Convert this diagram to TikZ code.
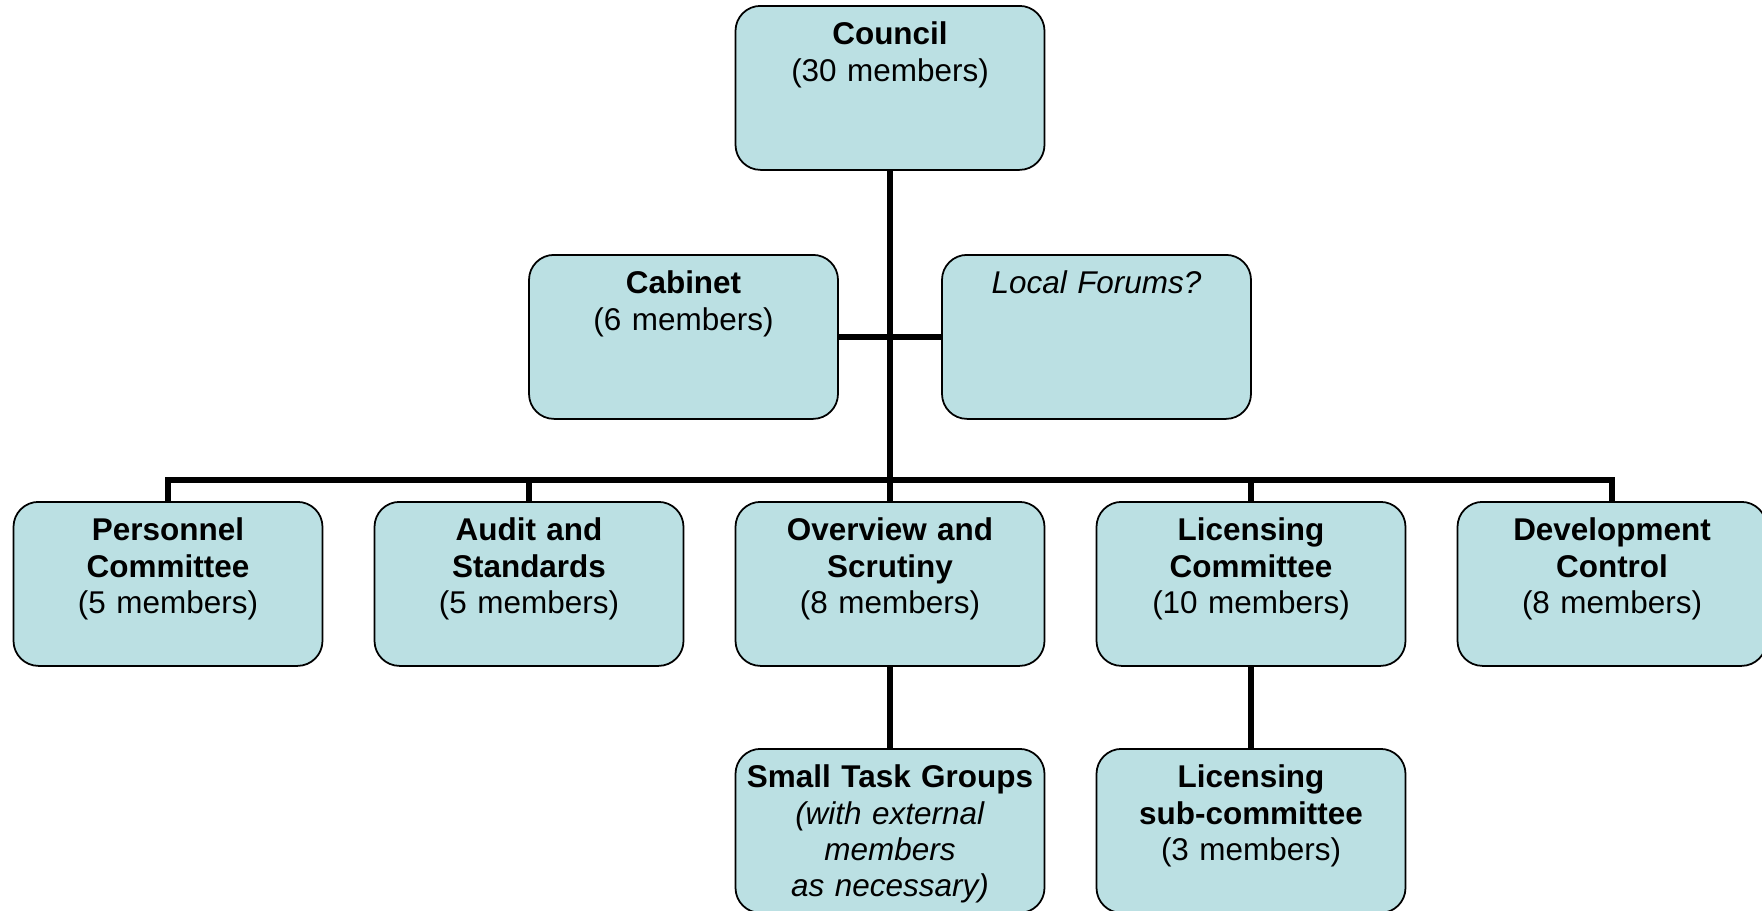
\documentclass[tikz,border=0pt]{standalone}
\usepackage{fontspec}
\setmainfont{Liberation Sans}
\definecolor{boxblue}{HTML}{BBE0E3}

\begin{document}
\begin{tikzpicture}
      \tikzset{
        node distance=7.22cm,
        unit/.style={rectangle,rounded corners=0.5cm,draw,line width=1pt,fill=boxblue,
          minimum width=6.18cm,text width=5.9cm,align=center,
          inner xsep=0pt,inner ysep=0.33cm,text height=0.45cm,text depth=2.17cm,
          font=\fontsize{17.9}{20.6}\selectfont},
        link/.style={line width=3.2pt}
      }

      \useasboundingbox (0,0) rectangle (35.24,-18.2);
      \clip (0,0) rectangle (35.24,-18.2);

      \node[unit,anchor=north] (council) at (17.8,-0.1) {\textbf{Council}\\(30 members)};
      \node[unit,anchor=north] (cabinet) at (13.67,-5.08) {\textbf{Cabinet}\\(6 members)};
      \node[unit,anchor=north] (forums) at (21.93,-5.08) {\textit{Local Forums?}};

      \node[unit,anchor=north] (overview) at (17.8,-10.02) {\textbf{Overview and}\\\textbf{Scrutiny}\\(8 members)};
      \node[unit,left of=overview] (audit) {\textbf{Audit and}\\\textbf{Standards}\\(5 members)};
      \node[unit,left of=audit] (personnel) {\textbf{Personnel}\\\textbf{Committee}\\(5 members)};
      \node[unit,right of=overview] (licensing) {\textbf{Licensing}\\\textbf{Committee}\\(10 members)};
      \node[unit,right of=licensing] (development) {\textbf{Development}\\\textbf{Control}\\(8 members)};

      \node[unit,node distance=4.94cm,below of=overview] (taskgroups) {\textbf{Small Task Groups}\\\textit{(with external}\\\textit{members}\\\textit{as necessary)}};
      \node[unit,node distance=4.94cm,below of=licensing] (subcommittee) {\textbf{Licensing}\\\textbf{sub-committee}\\(3 members)};

      \coordinate (bus) at (17.8,-9.6);

      \draw[link] (council) -- (overview);
      \draw[link] (cabinet) -- (forums);
      \draw[link] (personnel.north) |- (bus) -| (development.north);
      \draw[link] (audit.north) -- (audit.north |- bus);
      \draw[link] (licensing.north) -- (licensing.north |- bus);
      \draw[link] (overview) -- (taskgroups);
      \draw[link] (licensing) -- (subcommittee);
    \end{tikzpicture}
\end{document}
